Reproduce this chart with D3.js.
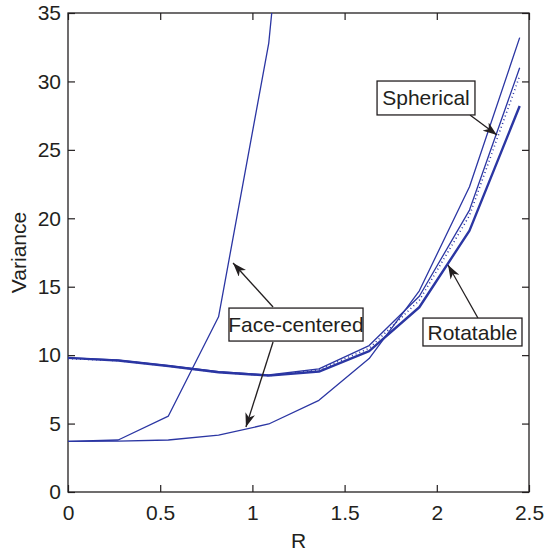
<!DOCTYPE html>
<html>
<head>
<meta charset="utf-8">
<script src="https://cdn.jsdelivr.net/npm/d3@7"></script>
<style>
  html, body { margin: 0; padding: 0; background: #fff; }
  svg { display: block; }
  text { font-family: "Liberation Sans", Arial, Helvetica, sans-serif; fill: #231f20; }
</style>
</head>
<body>
<svg id="chart" width="546" height="554"></svg>
<script>
// Design radius R (nine equal steps up to sqrt(6))
const radius = [0, 0.2722, 0.5443, 0.8165, 1.0887, 1.3608, 1.6330, 1.9052, 2.1773, 2.4495];

// Prediction variance for each design
const faceCenteredA = [3.70, 3.80, 5.55, 12.8, 32.8, 70.0];
const faceCenteredB = [3.70, 3.72, 3.80, 4.15, 4.97, 6.70, 9.75, 14.7, 22.3, 33.2];
const spherical     = [9.80, 9.65, 9.25, 8.80, 8.55, 9.00, 10.7, 14.3, 20.6, 31.0];
const sphericalPts  = [9.75, 9.60, 9.20, 8.75, 8.50, 8.92, 10.5, 14.0, 20.2, 30.4];
const rotatable     = [9.80, 9.60, 9.20, 8.75, 8.50, 8.80, 10.3, 13.5, 19.1, 28.2];

const xTicks = [0, 0.5, 1, 1.5, 2, 2.5];
const yTicks = [0, 5, 10, 15, 20, 25, 30, 35];
const labelNames = ["Spherical", "Face-centered", "Rotatable"];

(function () {
  const svg = d3.select("#chart");
  const mLeft = 68, mRight = 529, mTop = 13, mBottom = 492;

  const x = d3.scaleLinear().domain([0, 2.5]).range([mLeft, mRight]);
  const y = d3.scaleLinear().domain([0, 35]).range([mBottom, mTop]);

  const ink = "#231f20";
  const blue = "#2b36a3";

  const defs = svg.append("defs");
  // Clip region for the curves
  defs.append("clipPath").attr("id", "plotClip")
    .append("rect").attr("x", mLeft).attr("y", mTop)
    .attr("width", mRight - mLeft).attr("height", mBottom - mTop);

  // Arrowhead marker
  defs.append("marker")
    .attr("id", "arrowHead")
    .attr("viewBox", "0 0 14 10")
    .attr("refX", 14).attr("refY", 5)
    .attr("markerWidth", 14).attr("markerHeight", 10)
    .attr("markerUnits", "userSpaceOnUse")
    .attr("orient", "auto")
    .append("path").attr("d", "M0,0 L14,5 L0,10 L4,5 Z").attr("fill", ink);

  // Axes with inward ticks on all four sides
  const fontSize = "21px";
  const axisBottom = d3.axisBottom(x).tickValues(xTicks).tickSize(-7).tickPadding(13)
    .tickFormat(d3.format("~g"));
  const axisLeft = d3.axisLeft(y).tickValues(yTicks).tickSize(-7).tickPadding(7)
    .tickFormat(d3.format("~g"));
  const axisTop = d3.axisTop(x).tickValues(xTicks).tickSize(-7).tickFormat("");
  const axisRight = d3.axisRight(y).tickValues(yTicks).tickSize(-7).tickFormat("");

  function styleAxis(g) {
    g.select(".domain").remove();
    g.selectAll(".tick line").attr("stroke", ink).attr("stroke-width", 1.2);
    g.selectAll(".tick text").style("font-size", fontSize).attr("fill", ink);
  }

  svg.append("g").attr("transform", `translate(0,${mBottom})`).call(axisBottom).call(styleAxis);
  svg.append("g").attr("transform", `translate(${mLeft},0)`).call(axisLeft).call(styleAxis);
  svg.append("g").attr("transform", `translate(0,${mTop})`).call(axisTop).call(styleAxis);
  svg.append("g").attr("transform", `translate(${mRight},0)`).call(axisRight).call(styleAxis);

  // Frame
  svg.append("rect").attr("x", mLeft).attr("y", mTop)
    .attr("width", mRight - mLeft).attr("height", mBottom - mTop)
    .attr("fill", "none").attr("stroke", ink).attr("stroke-width", 1.3);

  // Axis titles
  svg.append("text").attr("x", (mLeft + mRight) / 2).attr("y", 548)
    .attr("text-anchor", "middle").style("font-size", fontSize).text("R");
  svg.append("text")
    .attr("transform", `translate(26,${(mTop + mBottom) / 2}) rotate(-90)`)
    .attr("text-anchor", "middle").style("font-size", fontSize).text("Variance");

  // Curves
  const line = d3.line().x((d, i) => x(radius[i])).y(d => y(d));
  const curves = svg.append("g").attr("clip-path", "url(#plotClip)");

  function drawCurve(values, width, dash) {
    curves.append("path").datum(values)
      .attr("d", line).attr("fill", "none")
      .attr("stroke", blue).attr("stroke-width", width)
      .attr("stroke-linejoin", "round")
      .attr("stroke-dasharray", dash || null);
  }

  drawCurve(faceCenteredA, 1.3);
  drawCurve(faceCenteredB, 1.3);
  drawCurve(rotatable, 2.4);
  drawCurve(spherical, 1.3);
  drawCurve(sphericalPts, 1.6, "1,3");

  // Labelled boxes with arrows (positions in data units)
  const notes = [
    { text: labelNames[0], box: [1.676, 30.03, 2.207, 27.55],
      arrows: [[2.18, 27.55, 2.326, 26.09]] },
    { text: labelNames[1], box: [0.873, 13.44, 1.600, 11.03],
      arrows: [[1.112, 13.52, 0.895, 16.73], [1.112, 10.96, 0.965, 4.75]] },
    { text: labelNames[2], box: [1.925, 12.71, 2.462, 10.67],
      arrows: [[2.223, 12.71, 2.061, 16.59]] }
  ];

  const ann = svg.append("g");
  notes.forEach(n => {
    n.arrows.forEach(a => {
      ann.append("line")
        .attr("x1", x(a[0])).attr("y1", y(a[1]))
        .attr("x2", x(a[2])).attr("y2", y(a[3]))
        .attr("stroke", ink).attr("stroke-width", 1.3)
        .attr("marker-end", "url(#arrowHead)");
    });
    const bx0 = x(n.box[0]), by0 = y(n.box[1]), bx1 = x(n.box[2]), by1 = y(n.box[3]);
    ann.append("rect").attr("x", bx0).attr("y", by0)
      .attr("width", bx1 - bx0).attr("height", by1 - by0)
      .attr("fill", "#fff").attr("stroke", ink).attr("stroke-width", 1.3);
    ann.append("text").attr("x", (bx0 + bx1) / 2).attr("y", (by0 + by1) / 2)
      .attr("text-anchor", "middle").attr("dominant-baseline", "central")
      .style("font-size", fontSize).text(n.text);
  });
})();
</script>
</body>
</html>
